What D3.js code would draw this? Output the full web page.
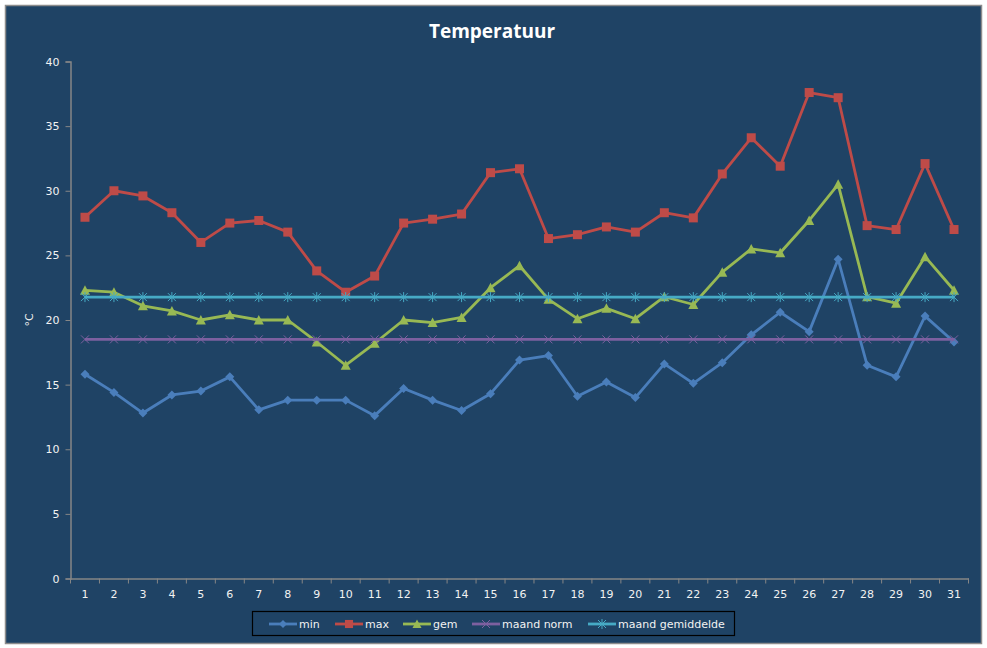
<!DOCTYPE html>
<html>
<head>
<meta charset="utf-8">
<script src="https://cdn.jsdelivr.net/npm/d3@7"></script>
<style>
  html, body { margin: 0; padding: 0; background: #ffffff; }
  svg { display: block; }
</style>
</head>
<body>
<svg id="chart" width="987" height="648"></svg>
<script>
// ---- data ----
const days = d3.range(1, 32).map(String);
const minValues = [15.8, 14.4, 12.8, 14.2, 14.5, 15.6, 13.05, 13.8, 13.8, 13.8, 12.6, 14.7, 13.8, 13.0, 14.3, 16.9, 17.25, 14.1, 15.2, 14.0, 16.6, 15.1, 16.7, 18.85, 20.6, 19.1, 24.7, 16.5, 15.6, 20.3, 18.3];
const maxValues = [27.95, 30.0, 29.6, 28.3, 26.0, 27.5, 27.7, 26.8, 23.8, 22.15, 23.4, 27.5, 27.8, 28.2, 31.4, 31.7, 26.3, 26.6, 27.2, 26.8, 28.3, 27.9, 31.3, 34.1, 31.9, 37.6, 37.2, 27.3, 27.0, 32.1, 27.0];
const gemValues = [22.3, 22.15, 21.1, 20.7, 20.0, 20.4, 20.0, 20.0, 18.3, 16.5, 18.2, 20.0, 19.8, 20.2, 22.5, 24.2, 21.6, 20.1, 20.9, 20.1, 21.8, 21.2, 23.7, 25.5, 25.2, 27.7, 30.5, 21.8, 21.3, 24.9, 22.3];
const normValues = days.map(() => 18.5);
const gemiddeldeValues = days.map(() => 21.77);
const yTicks = [0, 5, 10, 15, 20, 25, 30, 35, 40];
const seriesNames = ["min", "max", "gem", "maand norm", "maand gemiddelde"];

const series = [
  { name: seriesNames[0], values: minValues, color: "#4A7EBB", marker: "diamond" },
  { name: seriesNames[1], values: maxValues, color: "#BE4B48", marker: "square" },
  { name: seriesNames[2], values: gemValues, color: "#98B954", marker: "triangle" },
  { name: seriesNames[3], values: normValues, color: "#7D60A0", marker: "x" },
  { name: seriesNames[4], values: gemiddeldeValues, color: "#46AAC5", marker: "star" }
];

// ---- layout ----
const svg = d3.select("#chart");
const bg = "#1F4365";
const textColor = "#F2F2F2";
const axisColor = "#868686";
const plot = { left: 70.5, right: 968.5, top: 61.5, bottom: 578.5 };

svg.append("rect").attr("x", 5.5).attr("y", 5.5).attr("width", 976).attr("height", 638)
  .attr("fill", bg).attr("stroke", "#8C8C8C").attr("stroke-width", 1.5);

svg.append("text").attr("x", 492).attr("y", 38).attr("text-anchor", "middle")
  .attr("fill", "#FFFFFF").attr("font-family", "'Open Sans', sans-serif")
  .attr("font-weight", "bold").attr("font-size", 19).text("Temperatuur");

const x = d3.scaleBand().domain(days).range([plot.left, plot.right]);
const y = d3.scaleLinear().domain([0, 40]).range([plot.bottom, plot.top]);

// y axis
const yAxis = svg.append("g").attr("transform", `translate(${plot.left},0)`)
  .call(d3.axisLeft(y).tickValues(yTicks).tickSize(5).tickPadding(6).tickFormat(d3.format("d")));
// x axis
const xAxis = svg.append("g").attr("transform", `translate(0,${plot.bottom})`)
  .call(d3.axisBottom(x).tickSize(0).tickPadding(12));
// x tick marks at band boundaries
const boundaries = days.map(d => x(d)).concat([x(days[days.length - 1]) + x.bandwidth()]);
xAxis.selectAll("line.bnd").data(boundaries).enter().append("line").attr("class", "bnd")
  .attr("x1", d => d).attr("x2", d => d).attr("y1", 0).attr("y2", 5)
  .attr("stroke", axisColor);

[yAxis, xAxis].forEach(g => {
  g.select(".domain").attr("stroke", axisColor).attr("stroke-width", 1.5);
  g.selectAll(".tick line").attr("stroke", axisColor);
  g.selectAll("text").attr("fill", textColor)
    .attr("font-family", "'DejaVu Sans', Verdana, sans-serif").attr("font-size", 11);
});

svg.append("text").attr("transform", "translate(33,320) rotate(-90)")
  .attr("text-anchor", "middle").attr("fill", textColor)
  .attr("font-family", "'DejaVu Sans', Verdana, sans-serif").attr("font-size", 11).text("°C");

// markers
function drawMarker(g, type, color, cx, cy, s) {
  s = s || 1;
  if (type === "diamond") {
    g.append("path").attr("d", `M${cx},${cy - 4.5*s}L${cx + 4.5*s},${cy}L${cx},${cy + 4.5*s}L${cx - 4.5*s},${cy}Z`).attr("fill", color);
  } else if (type === "square") {
    g.append("rect").attr("x", cx - 4.5*s).attr("y", cy - 4.5*s).attr("width", 9*s).attr("height", 9*s).attr("fill", color);
  } else if (type === "triangle") {
    g.append("path").attr("d", `M${cx},${cy - 5*s}L${cx + 5*s},${cy + 4.5*s}L${cx - 5*s},${cy + 4.5*s}Z`).attr("fill", color);
  } else if (type === "x") {
    g.append("path").attr("d", `M${cx - 4},${cy - 4}L${cx + 4},${cy + 4}M${cx - 4},${cy + 4}L${cx + 4},${cy - 4}`)
      .attr("stroke", color).attr("stroke-width", 1).attr("fill", "none");
  } else if (type === "star") {
    g.append("path").attr("d", `M${cx - 4},${cy - 4}L${cx + 4},${cy + 4}M${cx - 4},${cy + 4}L${cx + 4},${cy - 4}M${cx},${cy - 5}L${cx},${cy + 5}`)
      .attr("stroke", color).attr("stroke-width", 1).attr("fill", "none");
  }
}

const line = d3.line().x((d, i) => x(days[i]) + x.bandwidth() / 2).y(d => y(d));

series.forEach(s => {
  const g = svg.append("g");
  g.append("path").datum(s.values).attr("d", line)
    .attr("fill", "none").attr("stroke", s.color).attr("stroke-width", 2.8)
    .attr("stroke-linejoin", "round");
  s.values.forEach((v, i) => drawMarker(g, s.marker, s.color, x(days[i]) + x.bandwidth() / 2, y(v)));
});

// legend
const legend = svg.append("g");
legend.append("rect").attr("x", 252.5).attr("y", 611.5).attr("width", 482).attr("height", 24)
  .attr("fill", "none").attr("stroke", "#000000").attr("stroke-width", 1.2);
const legendX = [269, 335, 403, 472, 588];
series.forEach((s, i) => {
  const lx = legendX[i], ly = 624;
  legend.append("line").attr("x1", lx).attr("x2", lx + 28).attr("y1", ly).attr("y2", ly)
    .attr("stroke", s.color).attr("stroke-width", 2.8);
  drawMarker(legend, s.marker, s.color, lx + 14, ly, 0.9);
  legend.append("text").attr("x", lx + 30).attr("y", ly + 4).attr("fill", textColor)
    .attr("font-family", "'DejaVu Sans', Verdana, sans-serif").attr("font-size", 11).text(s.name);
});
</script>
</body>
</html>
